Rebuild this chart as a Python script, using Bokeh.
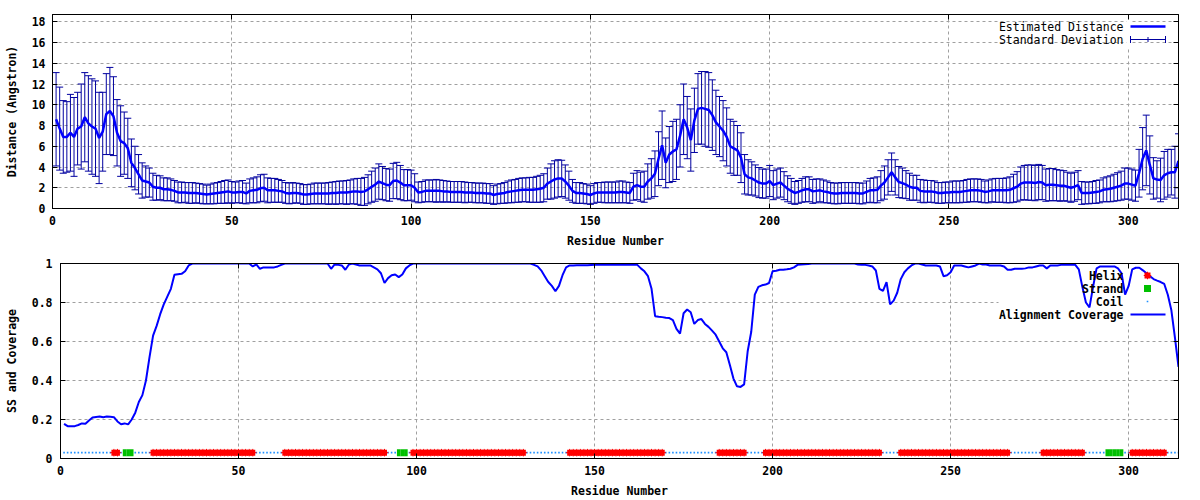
import math
from bokeh.plotting import figure
from bokeh.models import (FixedTicker, CustomJSTickFormatter, LinearAxis, Label,
                          BoxAnnotation, Range1d)
from bokeh.embed import file_html
from bokeh.resources import INLINE

# ---------------- data ----------------
residues = list(range(1, 315))

distance = [
    8.6, 7.7, 6.9, 6.9, 7.3, 6.9, 7.7, 7.9, 8.8, 8.2,
    7.9, 7.7, 6.8, 7.4, 9.1, 9.4, 8.9, 7.3, 6.5, 6.3,
    5.8, 4.4, 3.9, 3.3, 2.7, 2.6, 2.5, 2.1, 2.0, 2.0,
    1.85, 1.85, 1.8, 1.7, 1.55, 1.55, 1.55, 1.5, 1.5, 1.5,
    1.45, 1.4, 1.35, 1.4, 1.45, 1.5, 1.55, 1.6, 1.65, 1.55,
    1.55, 1.6, 1.6, 1.45, 1.7, 1.75, 1.8, 1.95, 2.0, 1.75,
    1.75, 1.75, 1.7, 1.65, 1.5, 1.45, 1.5, 1.5, 1.45, 1.35,
    1.35, 1.4, 1.45, 1.45, 1.45, 1.45, 1.45, 1.5, 1.5, 1.55,
    1.55, 1.55, 1.6, 1.65, 1.65, 1.6, 1.65, 1.85, 2.1, 2.3,
    2.6, 2.45, 2.3, 2.25, 2.65, 2.7, 2.5, 2.25, 2.25, 2.25,
    2.0, 1.55, 1.6, 1.7, 1.7, 1.7, 1.7, 1.7, 1.65, 1.65,
    1.6, 1.6, 1.6, 1.6, 1.55, 1.55, 1.55, 1.5, 1.5, 1.5,
    1.45, 1.45, 1.3, 1.4, 1.45, 1.5, 1.6, 1.65, 1.7, 1.75,
    1.8, 1.8, 1.8, 1.8, 1.85, 1.9, 2.0, 2.4, 2.6, 2.8,
    2.9, 2.9, 2.6, 2.2, 1.7, 1.5, 1.5, 1.45, 1.4, 1.3,
    1.45, 1.55, 1.55, 1.55, 1.55, 1.55, 1.55, 1.6, 1.6, 1.55,
    1.5, 2.1, 2.25, 2.1, 2.1, 2.6, 2.9, 3.35, 4.8, 6.1,
    4.4, 5.2, 5.5, 5.7, 7.0, 8.6, 7.8, 6.6, 8.5, 9.6,
    9.7, 9.6, 9.5, 9.0, 8.3, 7.9, 7.5, 6.9, 6.0, 5.8,
    5.6, 4.9, 3.3, 3.0, 2.9, 2.7, 2.5, 2.4, 2.4, 2.65,
    2.25, 2.4, 2.5, 2.2, 1.9, 1.7, 1.5, 1.6, 1.75, 1.85,
    1.85, 1.65, 1.7, 1.75, 1.65, 1.6, 1.5, 1.45, 1.45, 1.5,
    1.5, 1.5, 1.5, 1.5, 1.45, 1.45, 1.6, 1.75, 1.75, 1.8,
    2.2, 2.5, 3.0, 3.5, 3.0, 2.55, 2.45, 2.3, 2.1, 2.0,
    2.0, 1.7, 1.65, 1.65, 1.65, 1.6, 1.5, 1.5, 1.55, 1.55,
    1.6, 1.6, 1.6, 1.65, 1.7, 1.75, 1.75, 1.75, 1.7, 1.6,
    1.65, 1.75, 1.75, 1.75, 1.75, 1.75, 1.8, 1.95, 2.1, 2.4,
    2.5, 2.5, 2.5, 2.45, 2.55, 2.5, 2.25, 2.3, 2.3, 2.25,
    2.2, 2.2, 2.1, 2.0, 2.1, 2.25, 1.5, 1.5, 1.5, 1.55,
    1.6, 1.65, 1.8, 1.85, 1.9, 2.0, 2.1, 2.2, 2.4, 2.4,
    2.3, 2.2, 3.4, 4.8, 5.6, 4.2, 2.9, 2.8, 2.75, 3.2,
    3.4, 3.5, 3.5, 4.6,
]

std_dev = [
    4.5, 4.0, 3.5, 3.4, 3.7, 3.8, 3.5, 4.1, 4.3, 4.6,
    4.6, 4.6, 4.4, 3.8, 3.9, 4.2, 3.8, 3.2, 3.4, 3.0,
    2.9, 2.3, 2.1, 1.9, 1.7, 1.5, 1.4, 1.3, 1.2, 1.15,
    1.1, 1.1, 1.05, 1.0, 1.0, 1.0, 0.95, 1.0, 1.0, 0.95,
    0.95, 0.95, 0.9, 0.95, 1.0, 1.0, 1.05, 1.1, 1.1, 1.05,
    1.0, 1.05, 1.1, 1.0, 1.15, 1.2, 1.25, 1.3, 1.3, 1.2,
    1.15, 1.15, 1.1, 1.05, 1.0, 1.0, 1.0, 0.95, 0.95, 0.95,
    0.95, 0.95, 1.0, 1.0, 1.0, 1.0, 1.05, 1.05, 1.1, 1.1,
    1.1, 1.15, 1.15, 1.2, 1.25, 1.3, 1.35, 1.4, 1.5, 1.6,
    1.7, 1.6, 1.55, 1.55, 1.7, 1.75, 1.65, 1.5, 1.5, 1.45,
    1.35, 1.0, 1.0, 1.05, 1.05, 1.05, 1.1, 1.05, 1.05, 1.0,
    1.0, 1.0, 1.0, 1.0, 1.0, 0.95, 0.95, 0.95, 0.95, 0.95,
    0.95, 0.95, 0.9, 0.95, 0.95, 1.0, 1.05, 1.1, 1.1, 1.15,
    1.15, 1.15, 1.2, 1.2, 1.25, 1.3, 1.35, 1.5, 1.7, 1.8,
    1.8, 1.75, 1.6, 1.4, 1.1, 1.0, 1.0, 0.95, 0.95, 0.9,
    0.95, 0.95, 0.95, 1.0, 1.0, 1.0, 1.0, 1.05, 1.05, 1.0,
    1.0, 1.3, 1.4, 1.4, 1.5, 1.7, 1.9, 2.2, 2.6, 3.3,
    2.4, 2.7, 2.9, 2.9, 3.0, 3.4, 3.0, 3.0, 3.1, 3.4,
    3.5, 3.6, 3.6, 3.4, 3.1, 2.9, 2.9, 2.8, 2.6, 2.6,
    2.4, 2.4, 1.9, 1.7, 1.6, 1.5, 1.45, 1.4, 1.4, 1.5,
    1.4, 1.4, 1.4, 1.35, 1.25, 1.2, 1.1, 1.1, 1.15, 1.2,
    1.2, 1.15, 1.15, 1.1, 1.1, 1.05, 1.0, 1.0, 1.0, 1.0,
    1.0, 1.0, 1.0, 1.0, 1.0, 1.0, 1.05, 1.15, 1.2, 1.25,
    1.45, 1.6, 1.7, 1.85, 1.7, 1.5, 1.45, 1.35, 1.3, 1.2,
    1.2, 1.1, 1.1, 1.05, 1.05, 1.05, 1.0, 1.0, 1.0, 1.0,
    1.05, 1.05, 1.05, 1.05, 1.1, 1.1, 1.1, 1.1, 1.1, 1.05,
    1.1, 1.1, 1.15, 1.15, 1.15, 1.2, 1.25, 1.35, 1.45, 1.6,
    1.65, 1.7, 1.7, 1.7, 1.7, 1.65, 1.55, 1.55, 1.55, 1.5,
    1.5, 1.45, 1.4, 1.4, 1.4, 1.4, 1.1, 1.05, 1.05, 1.05,
    1.1, 1.1, 1.15, 1.2, 1.25, 1.3, 1.35, 1.4, 1.5, 1.5,
    1.5, 1.5, 2.3, 3.0, 3.4, 2.8, 2.0, 1.8, 2.1, 2.3,
    2.3, 2.2, 2.5, 2.6,
]

coverage = [
    0.178, 0.166, 0.166, 0.166, 0.172, 0.18, 0.178, 0.195, 0.21, 0.213,
    0.215, 0.212, 0.215, 0.214, 0.212, 0.19, 0.176, 0.18, 0.175, 0.2,
    0.235, 0.29, 0.325, 0.4, 0.52, 0.63, 0.68, 0.74, 0.79, 0.83,
    0.87, 0.942, 0.945, 0.947, 0.96, 0.99, 1.0, 1.0, 1.0, 1.0,
    1.0, 1.0, 1.0, 1.0, 1.0, 1.0, 1.0, 1.0, 1.0, 1.0,
    1.0, 1.0, 1.0, 0.985, 0.995, 0.973, 0.98, 0.98, 0.98, 0.98,
    0.985, 0.993, 1.0, 1.0, 1.0, 1.0, 1.0, 1.0, 1.0, 1.0,
    1.0, 1.0, 1.0, 1.0, 1.0, 0.973, 0.995, 0.993, 0.99, 0.968,
    0.995, 1.0, 0.995, 0.99, 0.99, 0.99, 0.99, 0.98, 0.97, 0.95,
    0.9, 0.925, 0.94, 0.944, 0.93, 0.944, 0.975, 0.99, 1.0, 1.0,
    1.0, 1.0, 1.0, 1.0, 1.0, 1.0, 1.0, 1.0, 1.0, 1.0,
    1.0, 1.0, 1.0, 1.0, 1.0, 1.0, 1.0, 1.0, 1.0, 1.0,
    1.0, 1.0, 1.0, 1.0, 1.0, 1.0, 1.0, 1.0, 1.0, 1.0,
    1.0, 1.0, 0.993, 0.985, 0.965, 0.935, 0.905, 0.885, 0.858, 0.885,
    0.94, 0.98, 0.99, 0.99, 0.991, 0.991, 0.991, 0.991, 0.992, 0.993,
    0.993, 0.993, 0.993, 0.993, 0.993, 0.993, 0.993, 0.993, 0.993, 0.993,
    0.993, 0.993, 0.975, 0.96, 0.935, 0.87, 0.73, 0.727, 0.725, 0.722,
    0.72, 0.71, 0.665, 0.64, 0.745, 0.764, 0.75, 0.69, 0.71, 0.715,
    0.69, 0.675, 0.656, 0.635, 0.6, 0.565, 0.545, 0.48, 0.41, 0.37,
    0.367, 0.38, 0.55, 0.65, 0.84, 0.88, 0.888, 0.892, 0.9, 0.96,
    0.963, 0.968, 0.968, 0.97, 0.973, 0.98, 0.993, 0.995, 0.996, 0.997,
    1.0, 1.0, 1.0, 1.0, 1.0, 1.0, 1.0, 1.0, 1.0, 1.0,
    1.0, 1.0, 1.0, 0.995, 0.993, 0.993, 0.99, 0.985, 0.964, 0.87,
    0.86, 0.904, 0.79, 0.81, 0.85, 0.92, 0.955, 0.975, 0.99, 1.0,
    1.0, 0.995, 0.99, 0.99, 0.99, 0.99, 0.985, 0.935, 0.94, 0.955,
    0.99, 0.99, 0.99, 0.985, 0.98, 0.985, 0.99, 1.0, 0.995, 0.995,
    0.99, 0.99, 0.99, 0.99, 0.985, 0.968, 0.968, 0.973, 0.973, 0.973,
    0.975, 0.98, 0.98, 0.985, 0.99, 0.99, 0.975, 0.99, 0.99, 0.99,
    0.993, 0.993, 0.993, 0.993, 0.993, 0.97, 0.88, 0.8, 0.775, 0.88,
    0.975, 0.985, 0.985, 0.985, 0.985, 0.985, 0.975, 0.95, 0.84, 0.885,
    0.97, 0.978, 0.978, 0.965, 0.95, 0.935, 0.92, 0.912, 0.905, 0.895,
    0.84, 0.76, 0.62, 0.47,
]

helix_segments = [(15, 16), (26, 54), (63, 91), (99, 130), (143, 169),
                  (185, 192), (198, 230), (236, 266), (276, 287), (301, 310)]
strand_segments = [(18, 20), (95, 97), (294, 298)]
ss_level = 0.03

x_ticks = [0, 50, 100, 150, 200, 250, 300]
dist_ticks = [0, 2, 4, 6, 8, 10, 12, 14, 16, 18]
cov_ticks = [0, 0.2, 0.4, 0.6, 0.8, 1]

X_RANGE = (0, 314)
DIST_RANGE = (0, 18.7)
COV_RANGE = (0, 1.0)

# derived per-residue secondary structure
ss = ["C"] * len(residues)
for a, b in helix_segments:
    for r in range(a, b + 1):
        ss[r - 1] = "H"
for a, b in strand_segments:
    for r in range(a, b + 1):
        ss[r - 1] = "E"
helix_x = [r for r, s in zip(residues, ss) if s == "H"]
strand_x = [r for r, s in zip(residues, ss) if s == "E"]
coil_x = [r for r, s in zip(residues, ss) if s == "C"]

lower = [d - s for d, s in zip(distance, std_dev)]
upper = [d + s for d, s in zip(distance, std_dev)]

# ---------------- style ----------------
FONT = "DejaVu Sans Mono"
FS = "11.5px"
BLUE = "#0000ff"
NAVY = "#0000a0"
GRID = "#a0a0a0"


def style_axis(ax):
    ax.major_tick_in = 5
    ax.major_tick_out = 0
    ax.minor_tick_line_color = None
    ax.axis_line_color = "black"
    ax.major_tick_line_color = "black"
    ax.major_label_text_font = FONT
    ax.major_label_text_font_size = FS
    ax.major_label_text_font_style = "bold"
    ax.major_label_text_color = "black"
    ax.axis_label_text_font = FONT
    ax.axis_label_text_font_size = FS
    ax.axis_label_text_font_style = "bold"
    ax.axis_label_text_color = "black"


def mirror_axis(p, ticks, side):
    ax = LinearAxis(ticker=FixedTicker(ticks=ticks))
    style_axis(ax)
    ax.major_label_text_font_size = "0px"
    ax.major_label_standoff = 0
    ax.formatter = CustomJSTickFormatter(code="return '';")
    p.add_layout(ax, side)


def base_figure(fw, fh, yr, xlabel, ylabel, borders):
    p = figure(frame_width=fw, frame_height=fh,
               x_range=Range1d(*X_RANGE), y_range=Range1d(*yr),
               output_backend="svg", toolbar_location=None,
               x_axis_label=xlabel, y_axis_label=ylabel,
               min_border_left=borders[0], min_border_right=borders[1],
               min_border_top=borders[2], min_border_bottom=borders[3])
    p.outline_line_color = "black"
    p.outline_line_width = 1
    p.outline_line_alpha = 1
    p.background_fill_color = "white"
    p.border_fill_color = "white"
    for g in (p.xgrid, p.ygrid):
        g.grid_line_color = GRID
        g.grid_line_dash = "3 3"
        g.grid_line_width = 1
    for ax in p.axis:
        style_axis(ax)
    p.xaxis.ticker = FixedTicker(ticks=x_ticks)
    p.xaxis.major_label_standoff = 7
    p.xaxis.axis_label_standoff = 6
    return p


# ---------------- top plot ----------------
TW, TH = 1126, 194
p1 = base_figure(TW, TH, DIST_RANGE, "Residue Number", "Distance (Angstron)",
                 (52, 22, 14, 42))
p1.yaxis.ticker = FixedTicker(ticks=dist_ticks)
p1.yaxis.major_label_standoff = 7
p1.yaxis.axis_label_standoff = 10
mirror_axis(p1, dist_ticks, "right")
mirror_axis(p1, x_ticks, "above")


def tx(px_from_right):
    return X_RANGE[1] - px_from_right * (X_RANGE[1] - X_RANGE[0]) / TW


def ty(px_from_top):
    return DIST_RANGE[1] - px_from_top * (DIST_RANGE[1] - DIST_RANGE[0]) / TH


# small mask where the key hides the x=300 grid line
p1.add_layout(BoxAnnotation(left=tx(52), right=tx(48), bottom=ty(33), top=DIST_RANGE[1],
                            fill_color="white", fill_alpha=1, line_alpha=0, level="underlay"))

p1.segment(x0=residues, y0=lower, x1=residues, y1=upper, line_color=NAVY, line_width=1)
p1.scatter(residues, upper, marker="dash", size=7, line_color=NAVY, line_width=1)
p1.scatter(residues, lower, marker="dash", size=7, line_color=NAVY, line_width=1)
p1.line(residues, distance, line_color=BLUE, line_width=2.5)

# key (gnuplot style: text right-aligned, sample on the right)
for i, txt in enumerate(["Estimated Distance", "Standard Deviation"]):
    p1.add_layout(Label(x=tx(55), y=ty(12 + 13 * i), text=txt, text_align="right",
                        text_baseline="middle", text_font=FONT, text_font_size=FS,
                        text_color="black"))
p1.line([tx(48), tx(13)], [ty(12), ty(12)], line_color=BLUE, line_width=2.5)
p1.line([tx(48), tx(13)], [ty(25), ty(25)], line_color=NAVY, line_width=1)
p1.scatter([tx(48), tx(13)], [ty(25), ty(25)], marker="dash", angle=math.pi / 2,
           size=7, line_color=NAVY, line_width=1)
p1.scatter([tx(30.5)], [ty(25)], marker="dash", angle=math.pi / 2,
           size=5, line_color=NAVY, line_width=1)

# ---------------- bottom plot ----------------
BW, BH = 1118, 195
p2 = base_figure(BW, BH, COV_RANGE, "Residue Number", "SS and Coverage",
                 (60, 22, 13, 42))
p2.yaxis.ticker = FixedTicker(ticks=cov_ticks)
p2.yaxis.formatter = CustomJSTickFormatter(code="return String(Math.round(tick*10)/10);")
p2.yaxis.major_label_standoff = 8
p2.yaxis.axis_label_standoff = 10
mirror_axis(p2, cov_ticks, "right")
mirror_axis(p2, x_ticks, "above")


def bx(px_from_right):
    return X_RANGE[1] - px_from_right * (X_RANGE[1] - X_RANGE[0]) / BW


def by(px_from_top):
    return COV_RANGE[1] - px_from_top * (COV_RANGE[1] - COV_RANGE[0]) / BH


# key area hides the grid
p2.add_layout(BoxAnnotation(left=bx(180), right=X_RANGE[1], bottom=by(57), top=COV_RANGE[1],
                            fill_color="white", fill_alpha=1, line_alpha=0, level="underlay"))

ss_y_coil = [ss_level] * len(coil_x)
p2.scatter(coil_x, ss_y_coil, marker="square", size=1.6, fill_color="#1e90ff",
           line_color=None)
p2.rect(x=helix_x, y=[ss_level] * len(helix_x), width=1.4, height=6,
        height_units="screen", fill_color="#ff0000", line_color=None)
p2.scatter(helix_x, [ss_level] * len(helix_x), marker="cross", size=7.5,
           line_color="#ff0000", line_width=1)
p2.rect(x=strand_x, y=[ss_level] * len(strand_x), width=1.02, height=7,
        height_units="screen", fill_color="#00c000", line_color=None)
p2.line(residues, coverage, line_color=BLUE, line_width=2)

for i, txt in enumerate(["Helix", "Strand", "Coil", "Alignment Coverage"]):
    p2.add_layout(Label(x=bx(55), y=by(12 + 13 * i), text=txt, text_align="right",
                        text_baseline="middle", text_font=FONT, text_font_size=FS,
                        text_font_style="bold", text_color="black"))
p2.rect(x=[bx(31)], y=[by(12)], width=6, height=6, width_units="screen",
        height_units="screen", fill_color="#ff0000", line_color=None)
p2.scatter([bx(31)], [by(12)], marker="cross", size=7.5, line_color="#ff0000", line_width=1)
p2.scatter([bx(31)], [by(25)], marker="square", size=7, fill_color="#00c000", line_color=None)
p2.scatter([bx(31)], [by(38)], marker="square", size=1.6, fill_color="#1e90ff", line_color=None)
p2.line([bx(48), bx(13)], [by(51), by(51)], line_color=BLUE, line_width=2)

# two independent roots, stacked, so each plot keeps its own frame position
open("out.html", "w").write(file_html([p1, p2], INLINE))
